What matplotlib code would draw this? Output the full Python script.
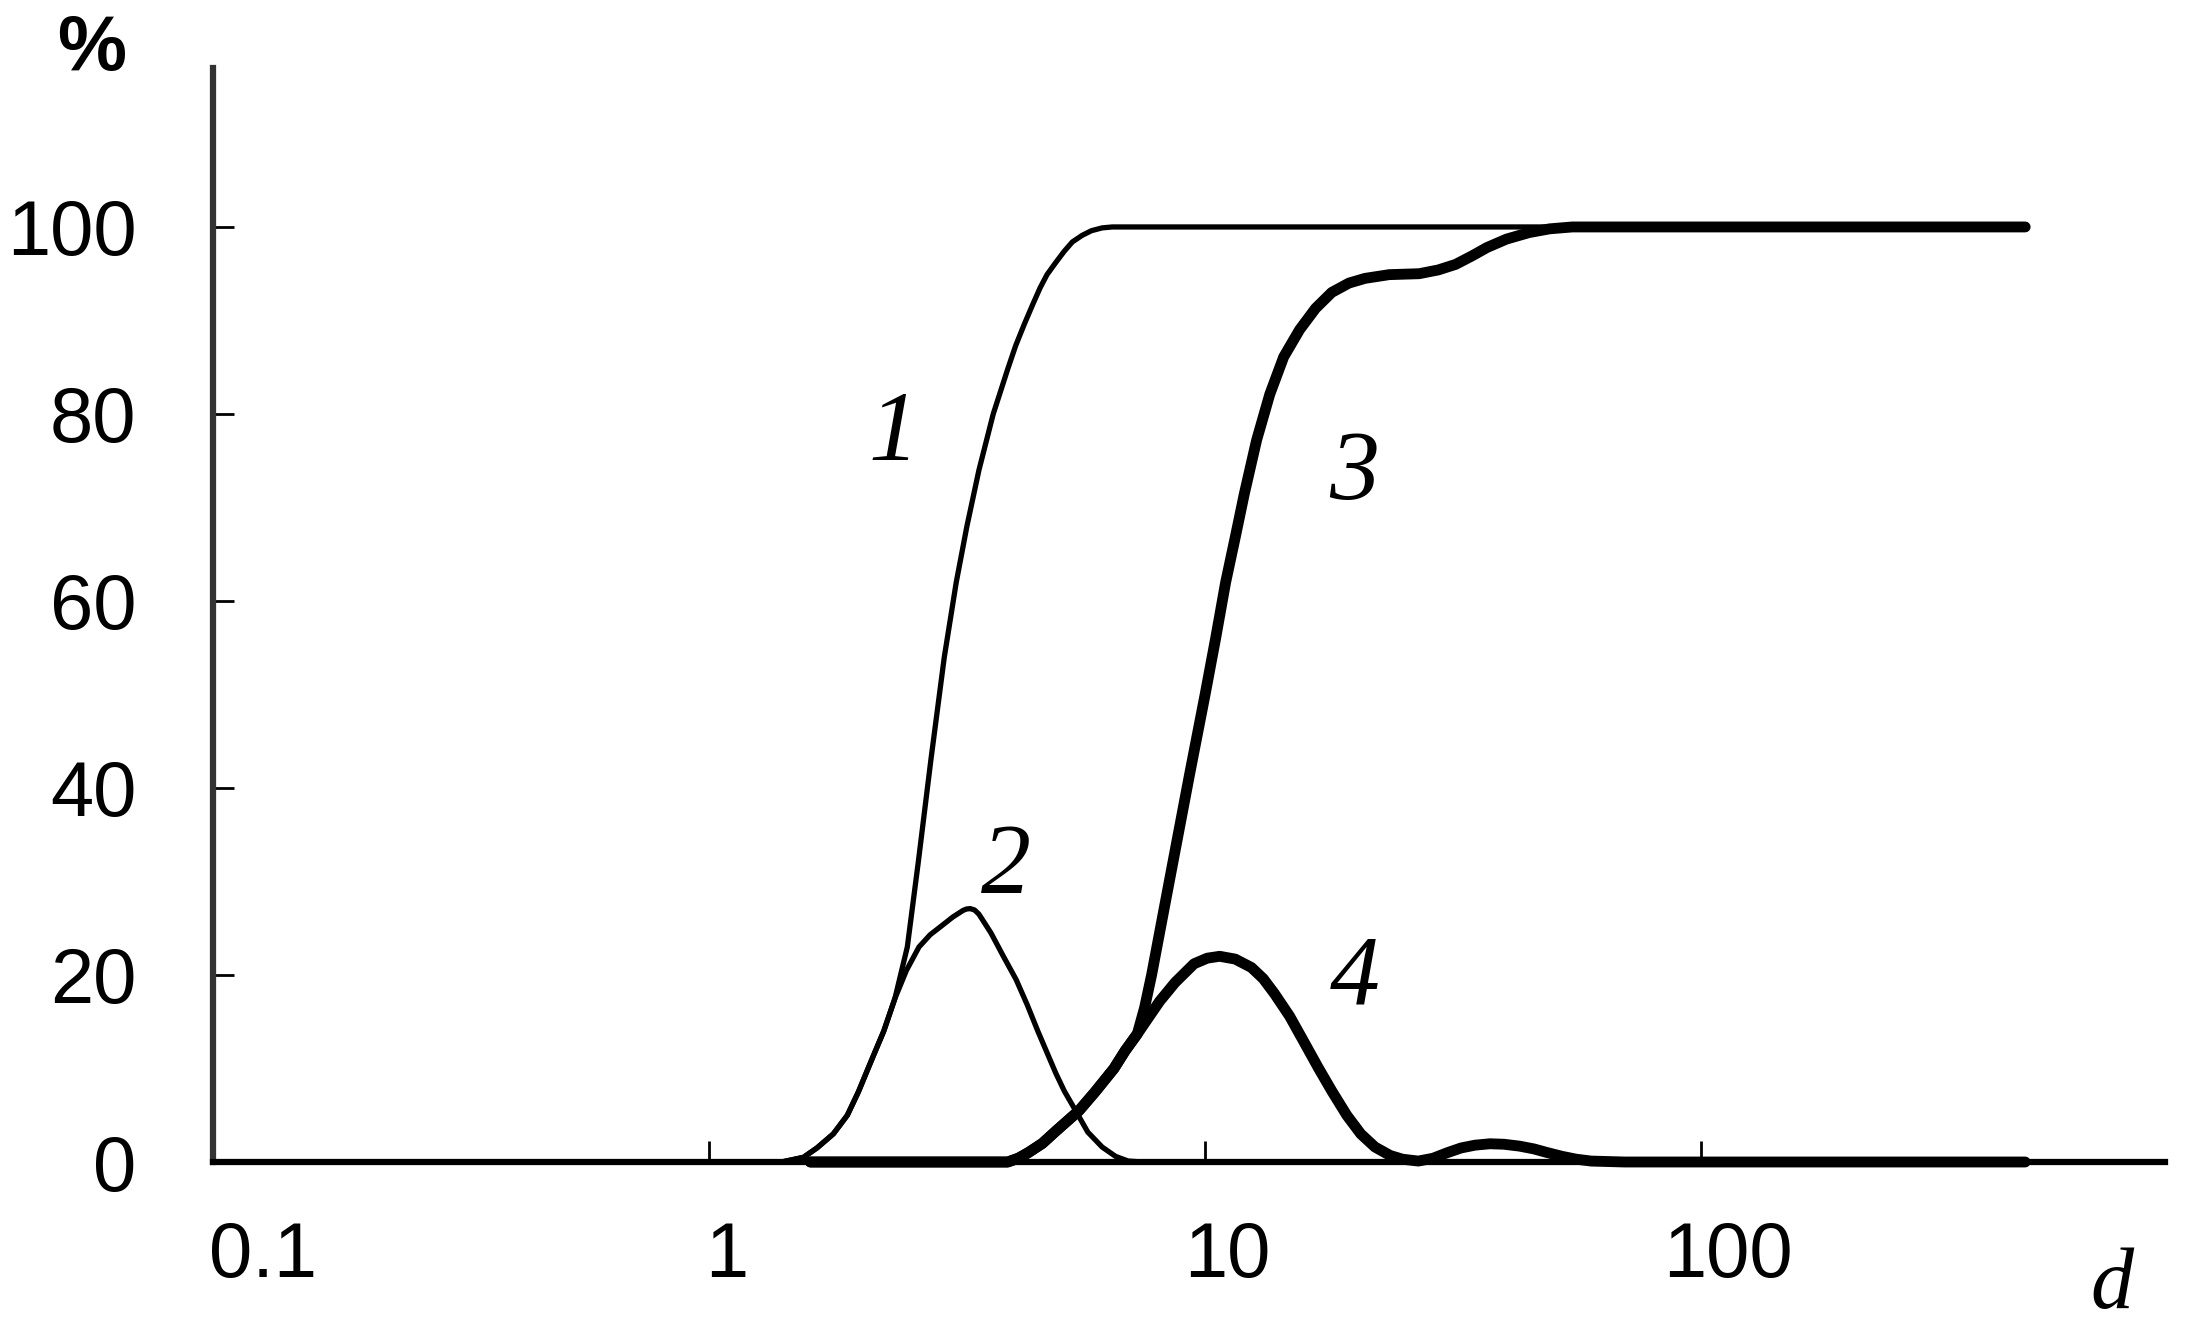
import numpy as np
import matplotlib
matplotlib.use('Agg')
import matplotlib.pyplot as plt
from matplotlib.ticker import NullLocator

plt.rcParams['font.family'] = ['Liberation Sans', 'DejaVu Sans']

# curve 1 - cumulative, fine fraction
d1 = [1.0, 1.4, 1.55, 1.65, 1.78, 1.9, 2.0, 2.13, 2.25, 2.37, 2.51, 2.64, 2.8, 2.98,
      3.15, 3.31, 3.5, 3.74, 4.0, 4.15, 4.32, 4.5, 4.65, 4.8, 5.0, 5.2, 5.4, 5.65,
      5.9, 6.2, 6.5, 7.0, 450]
p1 = [0, 0, 0.5, 1.5, 3, 5, 7.5, 11, 14, 17.5, 23, 32, 43, 54,
      62, 68, 74, 80, 84.8, 87.3, 89.6, 91.8, 93.5, 94.9, 96.2, 97.4, 98.4, 99.1,
      99.6, 99.9, 100, 100, 100]

# curve 2 - differential, fine fraction
d2 = [1.0, 1.4, 1.55, 1.65, 1.78, 1.9, 2.0, 2.13, 2.25, 2.37, 2.5, 2.65, 2.79, 2.95,
      3.1, 3.25, 3.3, 3.36, 3.43, 3.5, 3.7, 3.92, 4.16, 4.38, 4.6, 4.8, 5.0, 5.2,
      5.44, 5.8, 6.2, 6.6, 7.0, 7.5, 450]
p2 = [0, 0, 0.5, 1.5, 3, 5, 7.5, 11, 14, 17.5, 20.5, 23, 24.3, 25.3,
      26.2, 26.9, 27.05, 27.1, 26.95, 26.5, 24.5, 22, 19.5, 16.8, 14, 11.7, 9.5, 7.6,
      5.8, 3.2, 1.6, 0.6, 0.1, 0, 0]

# curve 3 - cumulative, coarse fraction
d3 = [1.6, 4.0, 4.2, 4.4, 4.7, 5.0, 5.57, 6.0, 6.55, 6.9, 7.3, 7.55, 7.8, 8.2, 8.7,
      9.3, 10, 10.5, 11, 11.5, 12, 12.7, 13.5, 14.4, 15.5, 16.7, 18, 19.5, 21,
      23.5, 27, 29.5, 32, 34.5, 37, 40.5, 45, 49.5, 55, 450]
p3 = [0, 0, 0.4, 1, 2, 3.3, 5.5, 7.5, 10, 11.9, 13.7, 16.5, 20, 26.1, 33.3,
      41.4, 50, 56, 62, 66.8, 71.5, 77.2, 82.1, 86.1, 89, 91.3, 93, 94, 94.5,
      94.9, 95, 95.4, 96, 96.9, 97.8, 98.7, 99.4, 99.8, 100, 100]

# curve 4 - differential, coarse fraction
d4 = [1.6, 4.0, 4.2, 4.4, 4.7, 5.0, 5.57, 6.0, 6.55, 6.9, 7.3, 7.7, 8.1, 8.7, 9.5,
      10.1, 10.7, 11.5, 12.4, 13.1, 13.8, 14.8, 15.8, 16.9, 18.0, 19.3, 20.6, 22,
      23.6, 25, 26.9, 28.8, 30.8, 32.8, 35, 37.5, 40, 43, 46, 49, 52.5, 56, 60, 70, 450]
p4 = [0, 0, 0.4, 1, 2, 3.3, 5.5, 7.5, 10, 11.9, 13.7, 15.5, 17.2, 19.2, 21.2,
      21.8, 22.0, 21.7, 20.8, 19.6, 18, 15.6, 12.9, 10.1, 7.6, 5.0, 3.0, 1.6,
      0.7, 0.3, 0.1, 0.4, 1.0, 1.5, 1.8, 1.95, 1.9, 1.7, 1.4, 1.0, 0.6, 0.3, 0.1, 0, 0]

xticks = [0.1, 1, 10, 100]
xtick_labels = ['0.1', '1', '10', '100']
yticks = [0, 20, 40, 60, 80, 100]

W, H = 2185, 1329
fig = plt.figure(figsize=(W / 100, H / 100), dpi=100)
ax = fig.add_axes([213 / W, 1 - 1162 / H, (2165 - 213) / W, (1162 - 68) / H])
ax.set_xscale('log')

thin, thick = 3.8, 7.8
for d, p, lw in [(d1, p1, thin), (d2, p2, thin), (d3, p3, thick), (d4, p4, thick)]:
    ax.plot(d, p, color='black', lw=lw, clip_on=False,
            solid_joinstyle='round', solid_capstyle='round')

ax.set_xlim(0.1, 861)
ax.set_ylim(0, 117)

for s in ['top', 'right']:
    ax.spines[s].set_visible(False)
ax.spines['left'].set_linewidth(4.5)
ax.spines['left'].set_color('#333333')
ax.spines['bottom'].set_linewidth(4.5)
ax.spines['bottom'].set_color('black')
ax.spines['left'].set_capstyle('projecting')
ax.spines['bottom'].set_capstyle('projecting')

ax.set_xticks(xticks)
ax.set_xticklabels([])
ax.xaxis.set_minor_locator(NullLocator())
ax.set_yticks(yticks)
ax.tick_params(direction='in', length=15, width=2, color='black')
ax.tick_params(axis='y', labelsize=56, pad=55)

# x tick labels, slightly shifted to the right like in the source figure
x_shift = [50, 18, 22, 27]
for x, lab, dx in zip(xticks, xtick_labels, x_shift):
    ax.annotate(lab, xy=(x, 0), xycoords=('data', 'axes fraction'),
                xytext=(dx, -58), textcoords='offset pixels',
                ha='center', va='top', fontsize=56)

# axis names
ax.text(0.057, 116.8, '%', fontsize=56, fontweight='bold', ha='center',
        va='baseline', clip_on=False)
ax.text(674, -15.6, 'd', fontsize=62, family=['Liberation Serif', 'DejaVu Serif'],
        style='italic', ha='center', va='baseline', clip_on=False)

# curve numbers
curve_labels = ['1', '2', '3', '4']
label_x = [2.35, 3.97, 20.0, 20.0]
label_y = [75.1, 28.9, 70.9, 17.0]
for t, x, y in zip(curve_labels, label_x, label_y):
    ax.text(x, y, t, fontsize=72, family=['Liberation Serif', 'DejaVu Serif'],
            style='italic', ha='center', va='baseline')

fig.savefig('out.png', dpi=100)
